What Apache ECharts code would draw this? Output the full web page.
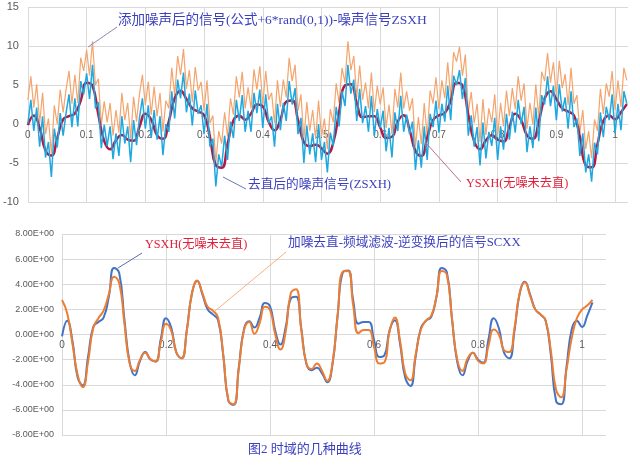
<!DOCTYPE html>
<html><head><meta charset="utf-8">
<script src="https://cdn.jsdelivr.net/npm/echarts@6/dist/echarts.min.js"></script>
<style>html,body{margin:0;padding:0;background:#fff}#c{width:640px;height:465px}</style>
</head><body><div id="c"></div>
<script>
// clean signal YSXH, sampled every 0.01 s (t = 0 .. 1.02)
var ysxhStep = 0.01;
var ysxh = [-0.15,1.10,-0.5,-3.4,-4.05,-1.8,0.6,1.0,1.35,3.0,
5.3,4.9,1.2,-2.2,-3.25,-2.1,-1.4,-2.0,-2.15,-0.35,
1.3,0.55,-1.45,-1.9,0.35,3.3,4.25,3.2,2.0,1.6,
1.15,-1.65,-5.3,-5.6,-2.6,0.45,1.05,0.55,1.35,2.5,
2.25,0.3,-0.8,0.55,2.85,3.0,0.5,-2.35,-2.85,-2.65,
-3.1,-3.8,-2.4,1.55,4.95,5.1,2.7,0.85,1.0,1.0,
-0.45,-1.8,-1.65,0.35,1.13,-0.75,-3.45,-4.1,-1.75,0.5,
1.1,1.4,3.0,5.3,4.95,1.2,-2.2,-3.25,-2.1,-1.45,
-2.0,-2.25,-0.4,1.3,0.5,-1.45,-1.9,0.3,3.25,4.2,
3.2,2.0,1.6,1.1,-1.65,-5.3,-5.55,-2.6,0.4,1.1,
0.6,1.5,2.55];
// filtered signal SCXX, sampled every 0.01 s
var scxx = [2.75,1.7,-0.7,-3.2,-4.2,-2.2,0.5,1.3,1.9,3.2,
4.6,4.1,0.9,-2.3,-2.9,-2.0,-1.45,-1.95,-2.15,-0.6,
0.85,0.3,-1.45,-1.9,0.3,3.3,4.3,3.3,2.2,1.9,
1.35,-1.6,-5.25,-5.55,-2.7,0.35,1.0,0.05,0.9,2.2,
1.95,0.0,-1.2,0.2,3.3,3.6,0.4,-2.3,-2.75,-2.3,
-2.9,-3.7,-2.3,1.5,5.0,5.05,2.3,0.1,0.35,0.35,
-1.0,-2.3,-2.2,0.3,1.35,-0.5,-3.1,-3.65,-1.6,0.4,
1.1,1.5,3.0,5.05,4.75,1.2,-2.0,-2.9,-1.9,-1.45,
-2.1,-2.3,-0.9,0.4,0.0,-1.25,-1.4,0.5,3.3,4.15,
3.1,2.0,1.6,1.1,-1.3,-4.4,-5.0,-2.8,-0.3,1.3,
2.0,2.3,2.75];
// noisy signals, sampled every 0.005 s
var noisyStep = 0.005;
var noisy = [3.1,6.1,2.1,5.1,0.1,4.0,-1.3,0.7,-3.8,2.4,
0.0,4.4,1.5,4.4,6.8,2.6,6.3,2.7,8.5,6.8,
9.5,6.2,10.6,5.0,5.8,-0.1,2.9,0.2,2.7,-1.5,
1.8,-1.1,4.0,0.5,2.7,-1.9,3.5,0.3,3.8,6.3,
2.4,5.4,1.2,4.8,1.0,4.0,-1.0,3.0,2.0,7.2,
3.7,8.7,6.3,9.6,4.5,6.9,2.8,7.3,4.3,5.4,
1.7,5.6,0.1,1.1,-5.0,-0.9,-2.5,1.5,-1.6,3.3,
1.2,6.1,3.4,6.7,2.0,4.7,2.0,7.0,4.4,7.4,
2.5,6.8,3.1,4.0,0.1,5.6,2.2,5.7,3.4,8.5,
5.5,7.6,1.7,3.8,-2.0,2.8,-0.9,1.8,-1.9,3.0,
-1.6,0.7,-3.2,1.9,0.2,5.2,2.7,7.2,5.3,10.6,
6.9,8.7,3.4,7.5,3.1,5.3,2.0,6.6,1.5,4.9,
2.5,4.7,-0.5,2.5,-1.3,4.5,2.1,6.6,2.0,4.2,
1.7,3.3,-2.9,0.9,-2.6,2.7,-1.6,4.3,2.6,6.0,
1.9,5.6,3.3,7.9,3.5,9.2,8.0,9.9,6.2,8.9,
1.5,4.1,0.1,2.6,-2.3,3.2,-1.4,2.0,0.2,3.8,
-1.6,2.7,-0.3,4.3,1.0,4.6,1.9,6.1,3.0,5.2,
-0.6,2.7,-0.1,5.1,0.8,6.7,5.5,9.1,5.3,7.9,
3.5,8.1,4.6,6.4,2.4,7.2,2.6,3.7,-1.1,1.8,
-3.2,-0.9,-4.4,0.6,-0.9,4.5,1.3,5.2,3.5,6.8,
1.8,5.6,2.2,7.2,5.6];
var zsxh = [0.1,3.1,-0.9,2.1,-2.9,1.0,-4.3,-2.3,-6.8,-0.6,
-3.0,1.4,-1.5,1.4,3.8,-0.4,3.3,-0.3,5.5,3.8,
6.5,3.2,7.6,2.0,2.8,-3.1,-0.1,-2.8,-0.3,-4.5,
-1.2,-4.1,1.0,-2.5,-0.3,-4.9,0.5,-2.7,0.8,3.3,
-0.6,2.4,-1.8,1.8,-2.0,1.0,-4.0,0.0,-1.0,4.2,
0.7,5.7,3.3,6.6,1.5,3.9,-0.2,4.3,1.3,2.4,
-1.3,2.6,-2.9,-1.9,-8.0,-3.9,-5.5,-1.5,-4.6,0.3,
-1.8,3.1,0.4,3.7,-1.0,1.7,-1.0,4.0,1.4,4.4,
-0.5,3.8,0.1,1.0,-2.9,2.6,-0.8,2.7,0.4,5.5,
2.5,4.6,-1.3,0.8,-5.0,-0.2,-3.9,-1.2,-4.9,0.0,
-4.6,-2.3,-6.2,-1.1,-2.8,2.2,-0.3,4.2,2.3,7.6,
3.9,5.7,0.4,4.5,0.1,2.3,-1.0,3.6,-1.5,1.9,
-0.5,1.7,-3.5,-0.5,-4.3,1.5,-0.9,3.6,-1.0,1.2,
-1.3,0.3,-5.9,-2.1,-5.6,-0.3,-4.6,1.3,-0.4,3.0,
-1.1,2.6,0.3,4.9,0.5,6.2,5.0,6.9,3.2,5.9,
-1.5,1.1,-2.9,-0.4,-5.3,0.2,-4.4,-1.0,-2.8,0.8,
-4.6,-0.3,-3.3,1.3,-2.0,1.6,-1.1,3.1,0.0,2.2,
-3.6,-0.3,-3.1,2.1,-2.2,3.7,2.5,6.1,2.3,4.9,
0.5,5.1,1.6,3.4,-0.6,4.2,-0.4,0.7,-4.1,-1.2,
-6.2,-3.9,-7.4,-2.4,-3.9,1.5,-1.7,2.2,0.5,3.8,
-1.2,2.6,-0.8,4.2,2.6];

function pairs(arr, step){ return arr.map(function(v,i){ return [+(i*step).toFixed(4), v]; }); }

var chart = echarts.init(document.getElementById('c'), null, {renderer:'canvas'});
var gridColor = '#D9D9D9';
var labelColor = '#595959';
var cjk = '"Liberation Serif","Noto Sans CJK SC",serif';
function xAx(idx, max, interval, offset){
  return {type:'value', gridIndex:idx, min:0, max:max, interval:interval, position:'bottom', offset:offset,
    axisLine:{show:true, onZero:false, lineStyle:{color:gridColor}},
    axisTick:{show:false},
    axisLabel:{color:labelColor, fontSize:10, fontFamily:'Liberation Sans', margin:6, showMaxLabel:false,
      formatter:function(v){ return String(+v.toFixed(2)); }},
    splitLine:{show:true, showMaxLine:false, lineStyle:{color:gridColor, width:1}}};
}
var option = {
  animation:false,
  backgroundColor:'#fff',
  grid:[
    {left:26, right:12, top:7, height:195},
    {left:62, right:34, top:234, height:201}
  ],
  xAxis:[ xAx(0, 1.022, 0.1, -78), xAx(1, 1.046, 0.2, -100.5) ],
  yAxis:[
    {type:'value', gridIndex:0, min:-10, max:15, interval:5,
     axisLine:{show:false}, axisTick:{show:false},
     axisLabel:{color:labelColor, fontSize:11, fontFamily:'Liberation Sans', margin:9},
     splitLine:{lineStyle:{color:gridColor}}},
    {type:'value', gridIndex:1, min:-8, max:8, interval:2,
     axisLine:{show:false}, axisTick:{show:false},
     axisLabel:{color:labelColor, fontSize:9, fontFamily:'Liberation Sans', margin:8,
       formatter:function(v){ return (v<0?'-':'') + Math.abs(v).toFixed(2) + 'E+00'; }},
     splitLine:{lineStyle:{color:gridColor}}}
  ],
  series:[
    {name:'noisy', type:'line', xAxisIndex:0, yAxisIndex:0, data:pairs(noisy, noisyStep),
     symbol:'none', lineStyle:{color:'#F4A46C', width:1.2}, z:2},
    {name:'YSXH-top', type:'line', xAxisIndex:0, yAxisIndex:0, data:pairs(ysxh, ysxhStep),
     symbol:'none', smooth:true, lineStyle:{color:'#B01A45', width:2.5}, z:3},
    {name:'ZSXH', type:'line', xAxisIndex:0, yAxisIndex:0, data:pairs(zsxh, noisyStep),
     symbol:'none', lineStyle:{color:'#1EA8E0', width:1.5}, z:4},
    {name:'YSXH', type:'line', xAxisIndex:1, yAxisIndex:1, data:pairs(ysxh, ysxhStep),
     symbol:'none', smooth:true, lineStyle:{color:'#4472C4', width:2}, z:3},
    {name:'SCXX', type:'line', xAxisIndex:1, yAxisIndex:1, data:pairs(scxx, ysxhStep),
     symbol:'none', smooth:true, lineStyle:{color:'#ED7D31', width:2}, z:4}
  ],
  graphic:[
    {type:'line', shape:{x1:117,y1:27,x2:88,y2:47}, style:{stroke:'#8A8AB8', lineWidth:1}, z:10},
    {type:'text', left:118, top:14, style:{text:'添加噪声后的信号(公式+6*rand(0,1))-噪声信号ZSXH', fill:'#3B40BF', font:'13.5px '+cjk}, z:10},
    {type:'line', shape:{x1:223,y1:177,x2:246,y2:189}, style:{stroke:'#6A7AB8', lineWidth:1}, z:10},
    {type:'text', left:248, top:178, style:{text:'去直后的噪声信号(ZSXH)', fill:'#3B40BF', font:'12.7px '+cjk}, z:10},
    {type:'line', shape:{x1:425,y1:142,x2:461,y2:182}, style:{stroke:'#C07080', lineWidth:1}, z:10},
    {type:'text', left:466, top:178, style:{text:'YSXH(无噪未去直)', fill:'#E0203A', font:'12.2px '+cjk}, z:10},
    {type:'line', shape:{x1:118,y1:268,x2:142,y2:253}, style:{stroke:'#5A68B8', lineWidth:1}, z:10},
    {type:'text', left:145, top:239, style:{text:'YSXH(无噪未去直)', fill:'#E0203A', font:'12.2px '+cjk}, z:10},
    {type:'line', shape:{x1:215,y1:311,x2:286,y2:252}, style:{stroke:'#F4B183', lineWidth:1}, z:10},
    {type:'text', left:288, top:236, style:{text:'加噪去直-频域滤波-逆变换后的信号SCXX', fill:'#3B40BF', font:'12.7px '+cjk}, z:10},
    {type:'text', left:248, top:443, style:{text:'图2 时域的几种曲线', fill:'#3B40BF', font:'13px '+cjk}, z:10}
  ]
};
chart.setOption(option);
</script></body></html>
